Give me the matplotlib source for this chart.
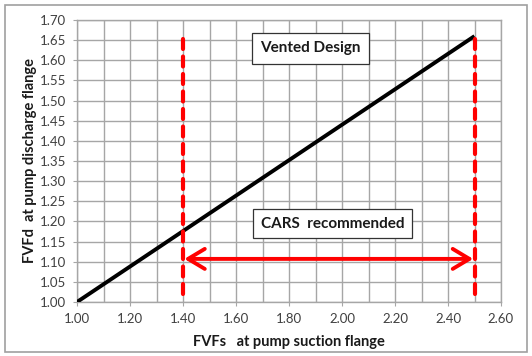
import matplotlib
matplotlib.use("Agg")
import matplotlib.pyplot as plt
import numpy as np
from matplotlib.patches import Rectangle

# Data
line_x = [1.00, 2.50]
line_y = [1.00, 1.66]
limit_x = [1.40, 2.50]
limit_y_span = [1.02, 1.67]
arrow_y = 1.107
x_ticks = [1.00, 1.20, 1.40, 1.60, 1.80, 2.00, 2.20, 2.40, 2.60]
y_ticks = [1.00, 1.05, 1.10, 1.15, 1.20, 1.25, 1.30, 1.35, 1.40, 1.45, 1.50, 1.55, 1.60, 1.65, 1.70]
x_grid = [1.0 + 0.1 * i for i in range(17)]
title_text = "Vented Design"
range_text = "CARS  recommended"
x_label = "FVFs   at pump suction flange"
y_label = "FVFd  at pump discharge flange"

plt.rcParams['font.family'] = ['Lato', 'DejaVu Sans']

fig = plt.figure(figsize=(5.32, 3.56), dpi=100)
ax = fig.add_axes([77/532, 1 - 302/356, (501-77)/532, (302-20)/356])

ax.set_xlim(1.0, 2.6)
ax.set_ylim(1.0, 1.7)
ax.set_xticks(x_ticks)
ax.set_xticklabels([f"{v:.2f}" for v in x_ticks])
ax.set_yticks(y_ticks)
ax.set_yticklabels([f"{v:.2f}" for v in y_ticks])
for gx in x_grid:
    ax.axvline(gx, color='#a6a6a6', lw=1.0, zorder=0)
for gy in y_ticks:
    ax.axhline(gy, color='#a6a6a6', lw=1.0, zorder=0)
for s in ax.spines.values():
    s.set_color('#a6a6a6')
    s.set_linewidth(1.0)
ax.tick_params(axis='both', labelsize=9.5, colors='#404040', length=3, width=0.8, pad=5)
ax.tick_params(axis='both', color='#a6a6a6')

ax.plot(line_x, line_y, color='black', lw=2.8, solid_capstyle='butt', zorder=3)
for lx in limit_x:
    ax.plot([lx, lx], limit_y_span, color='#ff0000', lw=3.0, ls=(0, (2.4, 1.8)),
            dash_capstyle='round', zorder=4)

ax.annotate('', xy=(limit_x[0] + 0.005, arrow_y), xytext=(limit_x[1] - 0.005, arrow_y),
            arrowprops=dict(arrowstyle='<->,head_length=1.0,head_width=0.6', color='#ff0000', lw=2.8,
                            shrinkA=0, shrinkB=0, mutation_scale=12), zorder=5)

ax.text(1.88, 1.63, title_text, fontsize=11, fontweight='bold', color='#1a1a1a', ha='center', va='center',
        bbox=dict(boxstyle='square,pad=0.55', fc='white', ec='#333333', lw=0.9), zorder=6)
ax.text(1.965, 1.194, range_text, fontsize=11, fontweight='bold', color='#1a1a1a', ha='center', va='center',
        bbox=dict(boxstyle='square,pad=0.5', fc='white', ec='#333333', lw=0.9), zorder=6)

ax.set_xlabel(x_label, fontsize=10.5, fontweight='bold', color='#1a1a1a', labelpad=7)
ax.set_ylabel(y_label, fontsize=10.5, fontweight='bold', color='#1a1a1a', labelpad=2)

fig.patches.append(Rectangle((5/532, 4/356), 522/532, 347/356, transform=fig.transFigure,
                             fill=False, ec='#a0a0a0', lw=1.2))

fig.savefig('out.png', dpi=100)
